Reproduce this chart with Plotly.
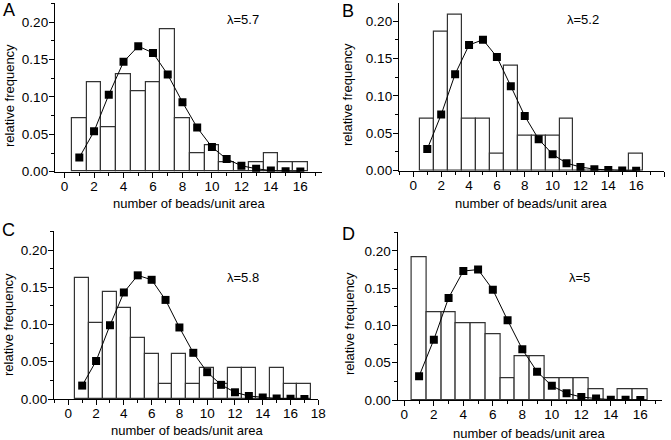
import plotly.graph_objects as go

W, H = 671, 440

# ---------------- data ----------------
bins_a = list(range(1, 17))
hist_a = [0.071, 0.120, 0.060, 0.131, 0.107, 0.120, 0.190, 0.071, 0.024, 0.036, 0.012, 0.0, 0.012, 0.024, 0.012, 0.012]
pois_a = [0.019, 0.054, 0.103, 0.147, 0.168, 0.159, 0.130, 0.093, 0.059, 0.033, 0.017, 0.008, 0.004, 0.0015, 0.0005, 0.0002]

bins_b = list(range(1, 17))
hist_b = [0.070, 0.186, 0.209, 0.070, 0.070, 0.023, 0.140, 0.047, 0.047, 0.047, 0.070, 0.0, 0.0, 0.0, 0.0, 0.023]
pois_b = [0.029, 0.075, 0.129, 0.168, 0.175, 0.152, 0.113, 0.073, 0.042, 0.022, 0.010, 0.005, 0.002, 0.001, 0.0003, 0.0001]

bins_c = list(range(1, 18))
hist_c = [0.163, 0.102, 0.143, 0.122, 0.082, 0.061, 0.020, 0.061, 0.020, 0.041, 0.020, 0.041, 0.041, 0.0, 0.041, 0.020, 0.020]
pois_c = [0.018, 0.051, 0.099, 0.143, 0.166, 0.160, 0.133, 0.096, 0.062, 0.036, 0.019, 0.009, 0.004, 0.002, 0.0006, 0.0002, 0.0001]

bins_d = list(range(1, 17))
hist_d = [0.191, 0.118, 0.118, 0.103, 0.103, 0.088, 0.029, 0.059, 0.059, 0.029, 0.029, 0.029, 0.015, 0.0, 0.015, 0.015]
pois_d = [0.032, 0.081, 0.137, 0.173, 0.175, 0.148, 0.107, 0.068, 0.038, 0.019, 0.009, 0.004, 0.002, 0.0005, 0.0002, 0.0001]

panel_letters = ["A", "B", "C", "D"]
lambda_labels = ["λ=5.7", "λ=5.2", "λ=5.8", "λ=5"]
x_title = "number of beads/unit area"
y_title = "relative frequency"

# ---------------- layout geometry (pixels) ----------------
panels = [
    dict(px=(55, 321.7), py=(3.3, 171.7), xr=[-0.65, 17.45], yr=[0, 0.2254]),
    dict(px=(399, 664), py=(2.7, 170.7), xr=[-1.03, 18.0], yr=[0, 0.2245]),
    dict(px=(54, 318.3), py=(231, 399), xr=[-1.03, 18.0], yr=[0, 0.2255]),
    dict(px=(397.7, 661.7), py=(232.3, 400), xr=[-0.45, 17.45], yr=[0, 0.225]),
]
data = [(bins_a, hist_a, pois_a), (bins_b, hist_b, pois_b),
        (bins_c, hist_c, pois_c), (bins_d, hist_d, pois_d)]

FONT = "Liberation Sans, Arial, sans-serif"
fig = go.Figure()
layout = dict(
    width=W, height=H, margin=dict(l=0, r=0, t=0, b=0),
    paper_bgcolor="white", plot_bgcolor="white", showlegend=False,
    font=dict(family=FONT, size=13, color="black"), bargap=0,
)

for i, (p, (bins, hist, pois)) in enumerate(zip(panels, data)):
    n = "" if i == 0 else str(i + 1)
    xa, ya = "x" + n, "y" + n
    fig.add_trace(go.Bar(x=bins, y=hist, width=1, xaxis=xa, yaxis=ya,
                         marker=dict(color="white", line=dict(color="#333333", width=1.2))))
    fig.add_trace(go.Scatter(x=bins, y=pois, xaxis=xa, yaxis=ya, mode="lines+markers",
                             line=dict(color="black", width=1),
                             marker=dict(symbol="square", size=8, color="black")))
    xd = [p["px"][0] / W, p["px"][1] / W]
    yd = [1 - p["py"][1] / H, 1 - p["py"][0] / H]
    common = dict(showline=True, linecolor="black", linewidth=1.3, ticks="outside",
                  tickcolor="black", tickwidth=1.2, ticklen=5, showgrid=False,
                  zeroline=False, automargin=False, tickfont=dict(size=13.5, family=FONT))
    layout["xaxis" + n] = dict(domain=xd, range=p["xr"], anchor=ya, tickmode="linear",
                               tick0=0, dtick=2, ticklabelstandoff=-3,
                               minor=dict(ticks="outside", dtick=1, tick0=0, ticklen=3,
                                          tickcolor="black", tickwidth=1.2, showgrid=False),
                               **common)
    layout["yaxis" + n] = dict(domain=yd, range=p["yr"], anchor=xa, tickmode="linear",
                               tick0=0, dtick=0.05, tickformat=".2f", ticklabelstandoff=-2,
                               minor=dict(ticks="outside", dtick=0.025, tick0=0, ticklen=3,
                                          tickcolor="black", tickwidth=1.2, showgrid=False),
                               **common)

ann_px = [
    dict(letter=(9, 10), lam=(243, 19), xt=(189.5, 203), yt=(10, 96)),
    dict(letter=(348, 11), lam=(583, 20), xt=(531, 203), yt=(347, 94)),
    dict(letter=(8.5, 230), lam=(243, 277), xt=(187.5, 430), yt=(8, 325)),
    dict(letter=(348, 234), lam=(579, 277), xt=(529.5, 433), yt=(349, 324)),
]
anns = []
for i, a in enumerate(ann_px):
    def pp(xy):
        return xy[0] / W, 1 - xy[1] / H
    x, y = pp(a["letter"])
    anns.append(dict(text=panel_letters[i], x=x, y=y, xref="paper", yref="paper",
                     showarrow=False, xanchor="center", yanchor="middle",
                     font=dict(size=18, family=FONT)))
    x, y = pp(a["lam"])
    anns.append(dict(text=lambda_labels[i], x=x, y=y, xref="paper", yref="paper",
                     showarrow=False, xanchor="center", yanchor="middle",
                     font=dict(size=13, family=FONT)))
    x, y = pp(a["xt"])
    anns.append(dict(text=x_title, x=x, y=y, xref="paper", yref="paper",
                     showarrow=False, xanchor="center", yanchor="middle",
                     font=dict(size=13, family=FONT)))
    x, y = pp(a["yt"])
    anns.append(dict(text=y_title, x=x, y=y, xref="paper", yref="paper", textangle=-90,
                     showarrow=False, xanchor="center", yanchor="middle",
                     font=dict(size=13, family=FONT)))
layout["annotations"] = anns

fig.update_layout(**layout)
fig.write_html("out.html", config={"displayModeBar": False},
               post_script="document.body.style.margin='0';")
